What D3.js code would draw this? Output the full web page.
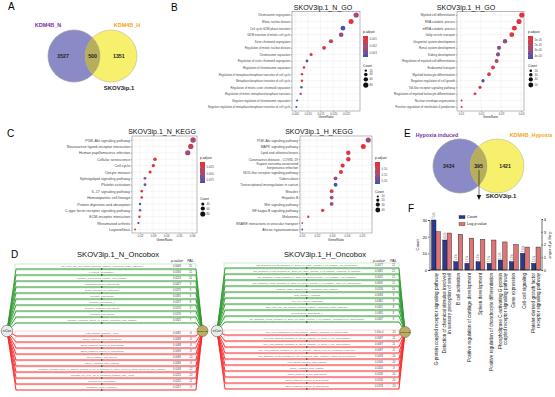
<!DOCTYPE html>
<html>
<head>
<meta charset="utf-8">
<script src="https://cdn.jsdelivr.net/npm/d3@7"></script>
<style>
  body { margin: 0; background: #fff; }
  svg { display: block; font-family: "Liberation Sans", Arial, sans-serif; }
</style>
</head>
<body>
<svg id="fig" width="555" height="397"></svg>
<script>
// ---- data ----
var vennASets = ["KDM4B_N", "KDM4B_H", "SKOV3ip.1"];
var vennACounts = [3527, 500, 1351];
var vennESets = ["Hypoxia induced", "KDM4B_Hypoxia", "SKOV3ip.1"];
var vennECounts = [3434, 395, 1421];

var nGoTerms = ["Chromosome segregation", "Mitotic nuclear division", "Cell cycle G2/M phase transition",
  "G2/M transition of mitotic cell cycle", "Sister chromatid segregation", "Regulation of mitotic nuclear division",
  "Chromosome separation", "Regulation of sister chromatid segregation", "Regulation of chromosome separation",
  "Regulation of metaphase/anaphase transition of cell cycle", "Metaphase/anaphase transition of cell cycle",
  "Regulation of mitotic sister chromatid separation", "Regulation of mitotic metaphase/anaphase transition",
  "Negative regulation of chromosome separation", "Negative regulation of metaphase/anaphase transition of cell cycle"];
var nGoRatio = [0.0290, 0.0270, 0.0238, 0.0231, 0.0191, 0.0164, 0.0113, 0.0097, 0.0085, 0.0077, 0.0077, 0.0075, 0.0072, 0.0058, 0.0055];
var nGoCount = [80, 75, 66, 64, 53, 45, 31, 27, 23, 21, 21, 21, 20, 16, 15];
var nGoPadj = [0.0022, 0.0008, 0.0034, 0.0024, 0.0017, 0.0008, 0.0009, 0.0033, 0.0009, 0.0008, 0.0008, 0.0032, 0.0025, 0.0034, 0.0035];

var hGoTerms = ["Myeloid cell differentiation", "RNA catabolic process", "mRNA catabolic process", "Golgi vesicle transport",
  "Urogenital system development", "Renal system development", "Kidney development",
  "Regulation of myeloid cell differentiation", "Endosomal transport", "Myeloid leukocyte differentiation",
  "Negative regulation of cell growth", "Toll-like receptor signaling pathway",
  "Regulation of myeloid leukocyte differentiation", "Nuclear envelope organization",
  "Positive regulation of interleukin-6 production"];
var hGoRatio = [0.0404, 0.0390, 0.0367, 0.0354, 0.0320, 0.0290, 0.0285, 0.0278, 0.0260, 0.0240, 0.0210, 0.0195, 0.0170, 0.0103, 0.0103];
var hGoCount = [55, 53, 50, 48, 43, 39, 38, 37, 35, 32, 28, 26, 23, 14, 14];
var hGoPadj = [5e-6, 6e-6, 7e-6, 9e-6, 3.0e-5, 3.2e-5, 3.3e-5, 2.0e-5, 1.2e-5, 1.0e-5, 4.3e-5, 1.2e-5, 1.0e-5, 1.2e-5, 1.9e-5];

var nKeggTerms = ["PI3K-Akt signaling pathway", "Neuroactive ligand-receptor interaction", "Human papillomavirus infection",
  "Cellular senescence", "Cell cycle", "Oocyte meiosis", "Sphingolipid signaling pathway", "Platelet activation",
  "IL-17 signaling pathway", "Hematopoietic cell lineage", "Protein digestion and absorption",
  "C-type lectin receptor signaling pathway", "ECM-receptor interaction", "Rheumatoid arthritis", "Legionellosis"];
var nKeggRatio = [0.0608, 0.0590, 0.0567, 0.0315, 0.0302, 0.0277, 0.0238, 0.0238, 0.0213, 0.0213, 0.0200, 0.0200, 0.0195, 0.0187, 0.0162];
var nKeggCount = [88, 86, 82, 46, 44, 40, 35, 35, 31, 31, 29, 29, 28, 27, 23];
var nKeggPadj = [0.045, 0.035, 0.050, 0.010, 0.008, 0.012, 0.050, 0.065, 0.015, 0.015, 0.075, 0.075, 0.020, 0.072, 0.015];

var hKeggTerms = ["PI3K-Akt signaling pathway", "MAPK signaling pathway", "Lipid and atherosclerosis",
  "Coronavirus disease - COVID-19", "Kaposi sarcoma-associated\nherpesvirus infection", "NOD-like receptor signaling pathway",
  "Tuberculosis", "Transcriptional misregulation in cancer", "Measles", "Hepatitis B", "Wnt signaling pathway",
  "NF-kappa B signaling pathway", "Melanoma", "SNARE interactions in vesicular transport", "African trypanosomiasis"];
var hKeggRatio = [0.0542, 0.0509, 0.0409, 0.0409, 0.0371, 0.0360, 0.0324, 0.0324, 0.0298, 0.0298, 0.0298, 0.0238, 0.0142, 0.0102, 0.0102];
var hKeggCount = [45, 42, 34, 34, 31, 30, 27, 27, 25, 25, 25, 20, 12, 8, 8];
var hKeggPadj = [0.15, 0.06, 0.06, 0.065, 0.07, 0.07, 0.15, 0.22, 0.07, 0.15, 0.15, 0.06, 0.12, 0.12, 0.22];

var nUpNames = ["NCI_WNT_and_Wnt_Integrin_signaling_Pathway_(fibronectin_matrix_assembly)", "L-cysteine_degradation_I",
  "reactome_Complement_cascade_Main_Pathway", "phosphatidylcholine_biosynthesis", "sulfate_activation_for_sulfonation",
  "glycogen_biosynthesis", "retinoate_biosynthesis_II", "hormone_synthesis_biosynthesis", "carnosine_biosynthesis",
  "reactome_Ionotropic_activity_of_Kainate_Receptors_Main_Pathway"];
var nUpP = ["0.0009", "0.0160", "0.0224", "0.0427", "0.0270", "0.0455", "0.0372", "0.0170", "0.0170", "0.0321"];
var nUpPal = ["15", "11", "10", "9", "9", "8", "8", "8", "7", "7"];
var nDownNames = ["FOS_Pathway_Estrogen_Action", "aspirin_triggered_lipoxin_biosynthesis",
  "aspirin_triggered_resolvin_E_biosynthesis", "aspirin_triggered_resolvin_D_biosynthesis", "CD40_Pathway_Cell_Survival",
  "KEGG_Apoptosis_Main_Pathway",
  "reactome_Phosphorylation_of_proteins_involved_in_G1_S_transition_by_active_Cyclin_E_Cdk2_complexes_Main_Pathway",
  "Anaphase_cell_cycle_G1_S_checkpoint_Pathway_DNA_repair", "methylglyoxal_degradation", "glutathione_redox_reactions_I"];
var nDownP = ["0.0081", "0.0088", "0.0088", "0.0093", "0.0096", "0.0096", "0.0108", "0.0225", "0.0255", "0.0257"];
var nDownPal = ["-6", "-8", "-8", "-8", "-10", "-9", "-12", "-10", "-11", "-9"];

var hUpNames = ["NCI_Signaling_events_mediated_by_Stem_cell_factor_receptor_c_Kit_Pathway_(cell_proliferation)",
  "NCI_Signaling_events_mediated_by_Stem_cell_factor_receptor_c_Kit_Pathway_(response_to_radiation)",
  "NCI_Signaling_events_mediated_by_Stem_cell_factor_receptor_c_Kit_Pathway_(cell_migration)",
  "NCI_Signaling_events_mediated_by_Stem_cell_factor_receptor_c_Kit_Pathway_(stem_cell_maintenance)",
  "reactome_ROS_regulates_gene_expression_Main_Pathway", "CLE_Pathway_Apoptosis", "cell_cycle_protein_catabolism",
  "NCI_WNT_and_Wnt_Integrin_signaling_Pathway_(fibronectin_matrix_assembly)", "selenocysteine_biosynthesis_II",
  "NCI_Signaling_events_mediated_by_Stem_cell_factor_receptor_c_Kit_Pathway_(megakaryocyte_differentiation)"];
var hUpP = ["0.0077", "0.0081", "0.0052", "0.0031", "0.0130", "0.0094", "0.0361", "0.0415", "0.0481", "0.0447"];
var hUpPal = ["12", "12", "12", "11", "10", "9", "9", "8", "8", "8"];
var hDownNames = ["NCI_cMyb_transcription_events_Pathway_(positive_regulation_of_phagocytosis)",
  "NCI_IL12_signaling_mediated_by_STAT4_Pathway_(T_helper_1_cell_differentiation)",
  "NCI_IL12_signaling_mediated_by_STAT4_Pathway_(T_helper_1_cell_differentiation)",
  "NCI_IL12_signaling_mediated_by_STAT4_Pathway_(natural_killer_cell_mediated_cytotoxicity)",
  "NCI_Signaling_events_mediated_by_the_Hedgehog_family_Pathway_(pancreas_development)",
  "HIF1_Stress_induction_Main_Pathway", "KEGG_Apoptosis_Main_Pathway", "aspirin_triggered_lipoxin_biosynthesis",
  "aspirin_triggered_resolvin_E_biosynthesis", "aspirin_triggered_resolvin_D_biosynthesis"];
var hDownP = ["1.05e-4", "0.0097", "0.0097", "0.0097", "0.0033", "0.0106", "0.0203", "0.0130", "0.0130", "0.0158"];
var hDownPal = ["-13", "-11", "-11", "-11", "-10", "-10", "-9", "-10", "-10", "-10"];

var fCats = ["G-protein coupled receptor signaling pathway",
  "Detection of chemical stimulus involved\nin sensory perception of smell", "B cell activation",
  "Positive regulation of cartilage development", "Spleen development",
  "Positive regulation of chondrocyte differentiation",
  "Phospholipase C-activating G-protein\ncoupled receptor signaling pathway", "Gene expression", "Cell-cell signaling",
  "Platelet-derived growth factor\nreceptor signaling pathway"];
var fCount = [30, 18, 5, 4, 5, 4, 6, 5, 10, 4];
var fLogP = [3.0, 2.9, 2.8, 2.5, 2.4, 2.35, 2.2, 2.0, 1.8, 1.8];
var fPct = ["7.6%", "4.6%", "1.3%", "1.1%", "1.3%", "1.1%", "1.5%", "1.3%", "2.6%", "1.1%"];

// ---- drawing ----
var svg = d3.select("#fig");
var defs = svg.append("defs");

function label(t, x, y, s) {
  svg.append("text").attr("x", x).attr("y", y).attr("font-size", s).text(t);
}
label("A", 8, 10, 10);
label("B", 171, 11, 10);
label("C", 7, 137, 10);
label("D", 11, 258, 10);
label("E", 404, 137, 10);
label("F", 408, 212, 10);

// venn diagrams
function venn(o, sets, counts) {
  var g = svg.append("g");
  var id = "clip" + o.id;
  defs.append("clipPath").attr("id", id).append("circle").attr("cx", o.x1).attr("cy", o.cy).attr("r", o.r);
  g.append("circle").attr("cx", o.x0).attr("cy", o.cy).attr("r", o.r).attr("fill", "#8a8ac6").attr("stroke", "#9a9a9a").attr("stroke-width", 0.4);
  g.append("circle").attr("cx", o.x1).attr("cy", o.cy).attr("r", o.r).attr("fill", "#f6f06c").attr("stroke", "#9a9a9a").attr("stroke-width", 0.4);
  g.append("circle").attr("cx", o.x0).attr("cy", o.cy).attr("r", o.r).attr("fill", "#b7ae5d").attr("clip-path", "url(#" + id + ")");
  g.append("circle").attr("cx", o.x0).attr("cy", o.cy).attr("r", o.r).attr("fill", "none").attr("stroke", "#9a9a9a").attr("stroke-width", 0.4);
  var tx = [o.x0 - o.r * 0.42, (o.x0 + o.x1) / 2, o.x1 + o.r * 0.3];
  g.selectAll(".n").data(counts).join("text")
    .attr("x", function(d, i) { return tx[i]; }).attr("y", o.cy + 1.8)
    .attr("text-anchor", "middle").attr("font-size", 5.2).attr("font-weight", "bold").attr("fill", "#222")
    .text(function(d) { return d; });
  g.append("text").attr("x", o.l0[0]).attr("y", o.l0[1]).attr("text-anchor", "middle").attr("font-size", o.fs)
    .attr("font-weight", "bold").attr("fill", "#7a2fa8").text(sets[0]);
  g.append("text").attr("x", o.l1[0]).attr("y", o.l1[1]).attr("text-anchor", "middle").attr("font-size", o.fs)
    .attr("font-weight", "bold").attr("fill", "#f7a224").text(sets[1]);
  g.append("text").attr("x", o.l2[0]).attr("y", o.l2[1]).attr("text-anchor", "middle").attr("font-size", 6)
    .attr("font-weight", "bold").attr("fill", "#222").text(sets[2]);
  return g;
}
venn({ id: "A", x0: 74, x1: 111, cy: 56, r: 26, l0: [48, 27], l1: [127, 27], l2: [119, 90], fs: 5.5 }, vennASets, vennACounts);
var ve = venn({ id: "E", x0: 460, x1: 497, cy: 166, r: 27, l0: [437, 137], l1: [531, 137], l2: [501, 198], fs: 5.3 }, vennESets, vennECounts);
ve.append("line").attr("x1", 479).attr("y1", 170).attr("x2", 479).attr("y2", 196).attr("stroke", "#111").attr("stroke-width", 0.6);
ve.append("path").attr("d", "M476.8,195 L481.2,195 L479,200 Z").attr("fill", "#111");

// enrichment dot plots
function dotplot(o) {
  var g = svg.append("g");
  var x = d3.scaleLinear().domain(o.xdom).range([o.x0, o.x1]);
  var y = d3.scalePoint().domain(o.terms).range([o.yTop, o.yBot]);
  var col = d3.scaleLinear().domain(o.pdom).range(["#ee2a2f", "#3553b1"]).interpolate(d3.interpolateLab);
  var r = d3.scaleSqrt().domain(o.cdom).range(o.rr);

  g.append("rect").attr("x", o.x0).attr("y", o.y0).attr("width", o.x1 - o.x0).attr("height", o.y1 - o.y0).attr("fill", "#fff");
  var minor = d3.pairs(o.ticks).map(function(p) { return (p[0] + p[1]) / 2; });
  g.selectAll(".mg").data(minor).join("line")
    .attr("x1", function(d) { return x(d); }).attr("x2", function(d) { return x(d); })
    .attr("y1", o.y0).attr("y2", o.y1).attr("stroke", "#f2f2f2").attr("stroke-width", 0.25);
  g.selectAll(".vg").data(o.ticks).join("line")
    .attr("x1", function(d) { return x(d); }).attr("x2", function(d) { return x(d); })
    .attr("y1", o.y0).attr("y2", o.y1).attr("stroke", "#e4e4e4").attr("stroke-width", 0.35);
  g.selectAll(".hg").data(o.terms).join("line")
    .attr("x1", o.x0).attr("x2", o.x1)
    .attr("y1", function(d) { return y(d); }).attr("y2", function(d) { return y(d); })
    .attr("stroke", "#e4e4e4").attr("stroke-width", 0.35);
  g.append("rect").attr("x", o.x0).attr("y", o.y0).attr("width", o.x1 - o.x0).attr("height", o.y1 - o.y0)
    .attr("fill", "none").attr("stroke", "#555").attr("stroke-width", 0.4);

  var ax = g.append("g").attr("transform", "translate(0," + o.y1 + ")")
    .call(d3.axisBottom(x).tickValues(o.ticks).tickFormat(d3.format(o.fmt)).tickSize(1).tickPadding(0.6));
  ax.attr("font-family", null).attr("font-size", null);
  ax.select(".domain").remove();
  ax.selectAll("line").attr("stroke", "#333").attr("stroke-width", 0.3);
  ax.selectAll("text").attr("font-size", o.tickFs).attr("fill", "#4d4d4d");

  var ay = g.append("g").attr("transform", "translate(" + o.x0 + ",0)")
    .call(d3.axisLeft(y).tickSize(1).tickPadding(0.8));
  ay.attr("font-family", null).attr("font-size", null);
  ay.select(".domain").remove();
  ay.selectAll("line").attr("stroke", "#333").attr("stroke-width", 0.3);
  ay.selectAll("text").attr("font-size", o.labFs).attr("fill", "#444").each(function(d) {
    var parts = d.split("\n");
    if (parts.length < 2) return;
    var t = d3.select(this).text(null);
    parts.forEach(function(p, i) {
      t.append("tspan").attr("x", -1.8).attr("dy", i === 0 ? (-0.25 * o.labFs) + "px" : (1.05 * o.labFs) + "px").text(p);
    });
  });

  g.append("text").attr("x", (o.x0 + o.x1) / 2).attr("y", o.y1 + o.tickFs + 4.6).attr("text-anchor", "middle")
    .attr("font-size", o.tickFs + 0.3).attr("fill", "#222").text("GeneRatio");

  g.selectAll(".dot").data(d3.range(o.terms.length)).join("circle")
    .attr("cx", function(i) { return x(o.ratio[i]); })
    .attr("cy", function(i) { return y(o.terms[i]); })
    .attr("r", function(i) { return r(o.count[i]); })
    .attr("fill", function(i) { return col(o.padj[i]); });

  g.append("text").attr("x", o.titleX).attr("y", o.titleY).attr("text-anchor", "middle")
    .attr("font-size", 7).attr("fill", "#111").text(o.title);

  // legend
  var L = o.leg;
  var gid = "grad" + o.id;
  var grad = defs.append("linearGradient").attr("id", gid).attr("x1", 0).attr("x2", 0).attr("y1", 0).attr("y2", 1);
  d3.range(0, 1.0001, 0.1).forEach(function(t) {
    grad.append("stop").attr("offset", t).attr("stop-color", col(o.pdom[0] + t * (o.pdom[1] - o.pdom[0])));
  });
  var ly = d3.scaleLinear().domain(o.pdom).range([L.barTop, L.barBot]);
  g.append("text").attr("x", L.x).attr("y", L.pTitleY).attr("font-size", 3.3).attr("fill", "#222").text("p.adjust");
  g.append("rect").attr("x", L.x).attr("y", L.barTop).attr("width", 5).attr("height", L.barBot - L.barTop).attr("fill", "url(#" + gid + ")");
  g.selectAll(".lt").data(L.pticks).join("line")
    .attr("x1", L.x).attr("x2", L.x + 1).attr("y1", function(d) { return ly(d); }).attr("y2", function(d) { return ly(d); })
    .attr("stroke", "#fff").attr("stroke-width", 0.3);
  g.selectAll(".ll").data(L.pticks).join("text")
    .attr("x", L.x + 6.5).attr("y", function(d) { return ly(d) + 1; })
    .attr("font-size", 2.9).attr("fill", "#4d4d4d").text(L.pfmt);
  g.append("text").attr("x", L.x).attr("y", L.cTitleY).attr("font-size", 3.3).attr("fill", "#222").text("Count");
  var cy = [], acc = L.cTitleY + 1.5;
  L.cvals.forEach(function(v) { acc += r(v) + 0.9; cy.push(acc); acc += r(v); });
  g.selectAll(".lc").data(L.cvals).join("circle")
    .attr("cx", L.x + 2.8).attr("cy", function(d, i) { return cy[i]; }).attr("r", function(d) { return r(d); }).attr("fill", "#111");
  g.selectAll(".lv").data(L.cvals).join("text")
    .attr("x", L.x + 6.5).attr("y", function(d, i) { return cy[i] + 1; })
    .attr("font-size", 2.9).attr("fill", "#4d4d4d").text(function(d) { return d; });
}

var expFmt = function(d) { return d.toExponential(0).replace("e-", "e-0"); };

dotplot({ id: "ngo", title: "SKOV3ip.1_N_GO", titleX: 323, titleY: 9.5,
  terms: nGoTerms, ratio: nGoRatio, count: nGoCount, padj: nGoPadj,
  x0: 292, x1: 360, y0: 11.5, y1: 111, yTop: 15, yBot: 107,
  xdom: [0.0038, 0.0305], ticks: [0.005, 0.010, 0.015, 0.020, 0.025], fmt: ".3f",
  pdom: [0.0006, 0.0035], cdom: [15, 80], rr: [1.0, 2.6], labFs: 2.8, tickFs: 2.8,
  leg: { x: 363, pTitleY: 33, barTop: 36, barBot: 57, pticks: [0.001, 0.002, 0.003], pfmt: d3.format(".3f"),
    cTitleY: 67, cvals: [20, 40, 60, 80] } });

dotplot({ id: "hgo", title: "SKOV3ip.1_H_GO", titleX: 466, titleY: 9.5,
  terms: hGoTerms, ratio: hGoRatio, count: hGoCount, padj: hGoPadj,
  x0: 457, x1: 524, y0: 11.5, y1: 111, yTop: 15, yBot: 107,
  xdom: [0.008, 0.0415], ticks: [0.01, 0.02, 0.03, 0.04], fmt: ".2f",
  pdom: [3e-6, 4.6e-5], cdom: [14, 55], rr: [1.0, 2.6], labFs: 3.0, tickFs: 2.8,
  leg: { x: 528, pTitleY: 33, barTop: 36, barBot: 59, pticks: [1e-5, 2e-5, 3e-5, 4e-5], pfmt: expFmt,
    cTitleY: 67, cvals: [20, 30, 40, 50] } });

dotplot({ id: "nkegg", title: "SKOV3ip.1_N_KEGG", titleX: 162, titleY: 133.5,
  terms: nKeggTerms, ratio: nKeggRatio, count: nKeggCount, padj: nKeggPadj,
  x0: 132, x1: 197, y0: 136, y1: 233, yTop: 140, yBot: 229.5,
  xdom: [0.0138, 0.0638], ticks: [0.02, 0.03, 0.04, 0.05, 0.06], fmt: ".2f",
  pdom: [0.005, 0.085], cdom: [23, 88], rr: [1.0, 2.7], labFs: 3.7, tickFs: 3.0,
  leg: { x: 200, pTitleY: 159, barTop: 162, barBot: 183, pticks: [0.025, 0.050, 0.075], pfmt: d3.format(".3f"),
    cTitleY: 200, cvals: [40, 60, 80] } });

dotplot({ id: "hkegg", title: "SKOV3ip.1_H_KEGG", titleX: 319, titleY: 133.5,
  terms: hKeggTerms, ratio: hKeggRatio, count: hKeggCount, padj: hKeggPadj,
  x0: 300, x1: 372, y0: 136, y1: 233, yTop: 140, yBot: 229.5,
  xdom: [0.0087, 0.0567], ticks: [0.01, 0.02, 0.03, 0.04, 0.05], fmt: ".2f",
  pdom: [0.04, 0.23], cdom: [8, 45], rr: [0.9, 2.6], labFs: 3.4, tickFs: 3.0,
  leg: { x: 375, pTitleY: 159, barTop: 162, barBot: 184, pticks: [0.10, 0.15, 0.20], pfmt: d3.format(".2f"),
    cTitleY: 193, cvals: [10, 20, 30, 40] } });

// oncobox networks
function oncobox(o) {
  var g = svg.append("g");
  var yu = d3.scaleLinear().domain([0, o.up.length - 1]).range(o.upY);
  var yd = d3.scaleLinear().domain([0, o.down.length - 1]).range(o.downY);
  var rows = o.up.map(function(n, i) { return { n: n, p: o.upP[i], pal: o.upPal[i], y: yu(i), c: "#2f9a30", lc: "#9fd79f" }; })
    .concat(o.down.map(function(n, i) { return { n: n, p: o.downP[i], pal: o.downPal[i], y: yd(i), c: "#f52a2a", lc: "#ffaaaa" }; }));

  g.selectAll(".box").data(rows).join("rect")
    .attr("x", o.xs).attr("y", function(d) { return d.y - 5; }).attr("width", o.xe - o.xs).attr("height", 5)
    .attr("fill", "none").attr("stroke", function(d) { return d.lc; }).attr("stroke-width", 0.5);
  g.selectAll(".edge").data(rows).join("path")
    .attr("d", function(d) {
      return "M" + o.root[0] + "," + o.root[1] + "L" + (o.xs + 1) + "," + d.y + "L" + o.xe + "," + d.y +
        "L" + o.sink[0] + "," + o.sink[1];
    })
    .attr("fill", "none").attr("stroke", function(d) { return d.c; }).attr("stroke-width", 0.9);
  g.selectAll(".mk").data(rows).join("path")
    .attr("d", function(d) { return "M" + (o.mx - 1) + "," + (d.y - 1) + "L" + (o.mx + 1.2) + "," + d.y + "L" + (o.mx - 1) + "," + (d.y + 1) + "Z"; })
    .attr("fill", "#2a5a2a");
  g.selectAll(".nm").data(rows).join("text")
    .attr("x", o.mx).attr("y", function(d) { return d.y - 1.6; }).attr("text-anchor", "middle")
    .attr("font-size", 2.3).attr("fill", "#666").text(function(d) { return d.n; });
  g.selectAll(".pv").data(rows).join("text")
    .attr("x", o.px).attr("y", function(d) { return d.y - 1.6; }).attr("text-anchor", "middle")
    .attr("font-size", 2.6).attr("fill", "#444").text(function(d) { return d.p; });
  g.selectAll(".pal").data(rows).join("text")
    .attr("x", o.palx).attr("y", function(d) { return d.y - 1.6; }).attr("text-anchor", "middle")
    .attr("font-size", 2.6).attr("fill", "#444").text(function(d) { return d.pal; });

  g.append("circle").attr("cx", o.root[0]).attr("cy", o.root[1]).attr("r", 5.8)
    .attr("fill", "#e8ece8").attr("stroke", "#444").attr("stroke-width", 0.5);
  g.append("text").attr("x", o.root[0]).attr("y", o.root[1] + 1.2).attr("text-anchor", "middle")
    .attr("font-size", 3.3).attr("fill", "#222").text("siCon");
  g.append("circle").attr("cx", o.sink[0]).attr("cy", o.sink[1]).attr("r", 5.5)
    .attr("fill", "#bdae5f").attr("stroke", "#555").attr("stroke-width", 0.5);
  g.append("text").attr("x", o.sink[0]).attr("y", o.sink[1] + 0.9).attr("text-anchor", "middle")
    .attr("font-size", 2.4).attr("fill", "#222").text("siKDM4B");

  g.append("text").attr("x", o.titleX).attr("y", 257).attr("text-anchor", "middle")
    .attr("font-size", 7.6).attr("fill", "#111").text(o.title);
  g.append("text").attr("x", o.px).attr("y", 262).attr("text-anchor", "middle")
    .attr("font-size", 3.6).attr("font-style", "italic").attr("fill", "#222").text("p-value");
  g.append("text").attr("x", o.palx).attr("y", 262).attr("text-anchor", "middle")
    .attr("font-size", 3.6).attr("fill", "#222").text("PAL");
}

oncobox({ title: "SKOV3ip.1_N_Oncobox", titleX: 118, root: [7, 331], sink: [202.5, 331],
  xs: 15, xe: 196, mx: 102, px: 177, palx: 190.5, upY: [269, 323], downY: [336, 390],
  up: nUpNames, upP: nUpP, upPal: nUpPal, down: nDownNames, downP: nDownP, downPal: nDownPal });
oncobox({ title: "SKOV3ip.1_H_Oncobox", titleX: 325, root: [217, 331], sink: [405, 332],
  xs: 224, xe: 399, mx: 307, px: 379, palx: 393.5, upY: [268, 322], downY: [335, 389],
  up: hUpNames, upP: hUpP, upPal: hUpPal, down: hDownNames, downP: hDownP, downPal: hDownPal });

// panel F bar chart
(function() {
  var g = svg.append("g");
  var x = d3.scaleBand().domain(fCats).range([431, 541]).paddingInner(0.2).paddingOuter(0.05);
  var yL = d3.scaleLinear().domain([0, 30]).range([270, 220]);
  var yR = d3.scaleLinear().domain([0, 4]).range([270, 219]);
  var bw = x.bandwidth() / 2;

  g.selectAll(".bc").data(d3.range(fCats.length)).join("rect")
    .attr("x", function(i) { return x(fCats[i]); }).attr("y", function(i) { return yL(fCount[i]); })
    .attr("width", bw).attr("height", function(i) { return 270 - yL(fCount[i]); })
    .attr("fill", "#2c3a8c").attr("stroke", "#111").attr("stroke-width", 0.4);
  g.selectAll(".br").data(d3.range(fCats.length)).join("rect")
    .attr("x", function(i) { return x(fCats[i]) + bw; }).attr("y", function(i) { return yR(fLogP[i]); })
    .attr("width", bw).attr("height", function(i) { return 270 - yR(fLogP[i]); })
    .attr("fill", "#de7474").attr("stroke", "#111").attr("stroke-width", 0.4);

  g.selectAll(".pc").data(d3.range(fCats.length)).join("text")
    .attr("transform", function(i) { return "translate(" + (x(fCats[i]) + bw / 2 + 1) + "," + (yL(fCount[i]) - 1) + ") rotate(-90)"; })
    .attr("font-size", 2.8).attr("fill", "#666").text(function(i) { return fPct[i]; });

  var aL = g.append("g").attr("transform", "translate(429.5,0)").call(d3.axisLeft(yL).tickValues([0, 10, 20, 30]).tickSize(1.5).tickPadding(0.8));
  var aR = g.append("g").attr("transform", "translate(541.5,0)").call(d3.axisRight(yR).ticks(4).tickSize(1.5).tickPadding(0.8));
  [aL, aR].forEach(function(a) {
    a.attr("font-family", null).attr("font-size", null);
    a.select(".domain").attr("stroke", "#111").attr("stroke-width", 0.6);
    a.selectAll("line").attr("stroke", "#111").attr("stroke-width", 0.5);
    a.selectAll("text").attr("font-size", 4.2).attr("fill", "#111");
  });
  g.append("line").attr("x1", 429.5).attr("x2", 541.5).attr("y1", 270).attr("y2", 270).attr("stroke", "#111").attr("stroke-width", 0.6);

  g.append("text").attr("transform", "translate(419,245) rotate(-90)").attr("text-anchor", "middle")
    .attr("font-size", 4.2).attr("fill", "#111").text("Count");
  g.append("text").attr("transform", "translate(549,245) rotate(90)").attr("text-anchor", "middle")
    .attr("font-size", 4.2).attr("fill", "#111").text("-Log of p value");

  g.selectAll(".cl").data(fCats).join("text")
    .attr("transform", function(d) { return "translate(" + (x(d) + x.bandwidth() / 2) + ",273) rotate(-90)"; })
    .attr("text-anchor", "end").attr("font-size", 4.6).attr("fill", "#111")
    .each(function(d) {
      var parts = d.split("\n"), t = d3.select(this);
      parts.forEach(function(p, i) {
        t.append("tspan").attr("x", 0).attr("y", ((i - (parts.length - 1) / 2) * 4.9 + 1.6)).text(p);
      });
    });

  g.append("rect").attr("x", 459).attr("y", 215.5).attr("width", 6).attr("height", 3.2).attr("fill", "#2c3a8c").attr("stroke", "#111").attr("stroke-width", 0.3);
  g.append("text").attr("x", 467).attr("y", 218.4).attr("font-size", 3.8).attr("fill", "#111").text("Count");
  g.append("rect").attr("x", 459).attr("y", 222.5).attr("width", 6).attr("height", 3.2).attr("fill", "#de7474").attr("stroke", "#111").attr("stroke-width", 0.3);
  g.append("text").attr("x", 467).attr("y", 225.4).attr("font-size", 3.8).attr("fill", "#111").text("Log p value");
})();
</script>
</body>
</html>
